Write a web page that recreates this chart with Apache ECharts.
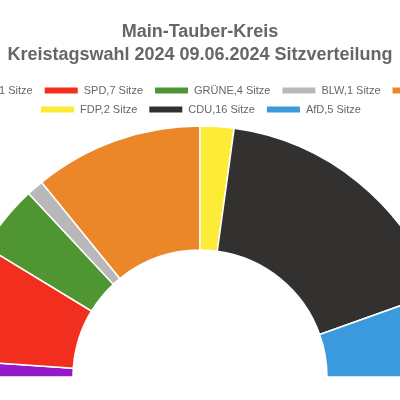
<!DOCTYPE html>
<html>
<head>
<meta charset="utf-8">
<script src="https://cdn.jsdelivr.net/npm/echarts@6/dist/echarts.min.js"></script>
<style>
  html, body { margin: 0; padding: 0; background: #fff; }
  #chart { width: 400px; height: 400px; }
</style>
</head>
<body>
<div id="chart"></div>
<script>
// Sitzverteilung
var parteien = ['Die Linke', 'SPD', 'GRÜNE', 'BLW', 'FW', 'FDP', 'CDU', 'AfD'];
var sitze = [1, 7, 4, 1, 10, 2, 16, 5];
var farben = ['#9519C9', '#F22E1E', '#4F9633', '#B8B8B8', '#EB8629', '#FCEB37', '#323130', '#3A9ADB'];

var namen = [];
var daten = [];
for (var i = 0; i < parteien.length; i++) {
  var n = parteien[i] + ',' + sitze[i] + ' Sitze';
  namen.push(n);
  daten.push({ name: n, value: sitze[i], itemStyle: { color: farben[i] } });
}

var legendeText = { fontFamily: 'Liberation Sans, Arial, sans-serif', fontSize: 11, color: '#666' };

var chart = echarts.init(document.getElementById('chart'));
var option = {
  animation: false,
  title: {
    text: 'Main-Tauber-Kreis\nKreistagswahl 2024 09.06.2024 Sitzverteilung',
    left: 'center',
    top: 16,
    textStyle: {
      fontFamily: 'Liberation Sans, Arial, sans-serif',
      fontSize: 18,
      fontWeight: 'bold',
      color: '#666',
      lineHeight: 23
    }
  },
  legend: [
    {
      data: namen.slice(0, 5),
      left: 'center',
      top: 80,
      width: 1000,
      itemWidth: 35,
      itemHeight: 8,
      itemGap: 10,
      icon: 'rect',
      textStyle: legendeText
    },
    {
      data: namen.slice(5),
      left: 'center',
      top: 99,
      width: 1000,
      itemWidth: 35,
      itemHeight: 8,
      itemGap: 10,
      icon: 'rect',
      textStyle: legendeText
    }
  ],
  series: [
    {
      type: 'pie',
      center: [200, 377],
      radius: [127, 251],
      startAngle: 180,
      endAngle: 0,
      clockwise: true,
      label: { show: false },
      labelLine: { show: false },
      itemStyle: { borderColor: '#fff', borderWidth: 1.5 },
      data: daten
    }
  ]
};
chart.setOption(option);
</script>
</body>
</html>
